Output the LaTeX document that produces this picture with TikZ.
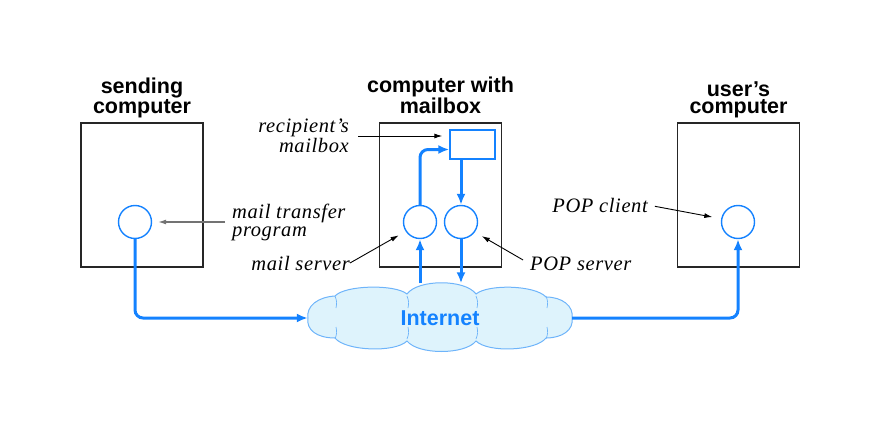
\documentclass[tikz,border=0pt]{standalone}
\usepackage{fontspec}
\setmainfont{Liberation Serif}
\setsansfont{Liberation Sans}
\usetikzlibrary{arrows.meta,positioning}
\definecolor{netblue}{RGB}{20,130,255}
\definecolor{cloudfill}{RGB}{222,243,252}
\definecolor{cloudline}{RGB}{110,180,250}
\begin{document}
\begin{tikzpicture}[x=1pt, y=-1pt,
  every node/.style={inner sep=0pt},
  host/.style={draw=black!85, line width=1.5pt, minimum width=122pt, minimum height=144pt},
  title/.style={font=\sffamily\bfseries\fontsize{21.5}{17}\selectfont, align=center, text depth=0pt},
  note/.style={font=\itshape\fontsize{20.5}{18}\selectfont\addfontfeatures{LetterSpace=3}},
  proc/.style={circle, draw=netblue, line width=1.4pt, minimum size=33pt},
  flow/.style={netblue, line width=3pt, -{Latex[length=11pt,width=9pt]}, rounded corners=8pt},
  pointer/.style={line width=0.9pt, -{Latex[length=8pt,width=5pt]}},
  seam/.style={cloudline, line width=0.7pt}
]
\useasboundingbox (0,0) rectangle (882,433);

% the three hosts
\node[host] (sender) at (142,195) {};
\node[host] (relay) at (440.5,195) {};
\node[host] (user) at (738.5,195) {};
\node[title, above=9pt of sender] {sending\\computer};
\node[title, above=9pt of relay] {computer with\\mailbox};
\node[title, above=9pt of user] {user's\\computer};

% programs
\node[proc] (mta) at (135,222) {};
\node[proc] (mserver) at (420,222) {};
\node[proc] (popserver) at (461,222) {};
\node[proc] (popclient) at (738,222) {};
\node[draw=netblue, line width=1.4pt, minimum width=45pt, minimum height=29pt] (mailbox) at (472.5,144.5) {};

% the network
\draw[cloudline, fill=cloudfill, line width=1pt]
  (308,318) .. controls (306,306) and (318,297) .. (335,296)
  .. controls (345,285) and (395,284) .. (407,294)
  .. controls (418,279) and (465,279) .. (476,294)
  .. controls (488,284) and (535,285) .. (546,297)
  .. controls (562,297) and (574,306) .. (572,318)
  .. controls (574,330) and (562,338) .. (546,338)
  .. controls (536,351) and (488,353) .. (476,341)
  .. controls (465,355) and (418,355) .. (407,341)
  .. controls (395,353) and (345,351) .. (335,338)
  .. controls (317,338) and (306,330) .. (308,318) -- cycle;
\foreach \sx in {335,407,476,546} {
  \draw[seam] (\sx,296) .. controls (\sx+2,302) .. (\sx+1,308);
  \draw[seam] (\sx,339) .. controls (\sx+2,333) .. (\sx+1,327);
}
\node[minimum width=264pt, minimum height=69pt,
  font=\sffamily\bfseries\fontsize{21.5}{21}\selectfont, text=netblue] (internet) at (440,318) {Internet};

\draw[flow] (mta.south) |- (internet.west);
\draw[flow] (internet.east) -| (popclient.south);
\draw[flow] (mserver |- internet.north) -- (mserver.south);
\draw[flow] (popserver.south) -- (popserver |- internet.north);
\draw[flow] (mserver.north) |- ([yshift=-5pt]mailbox.west);
\draw[flow] (popserver |- mailbox.south) -- (popserver.north);

% labels
\node[note, anchor=west, align=left] (mtalabel) at (232,222) {mail transfer\\program};
\node[note, anchor=east, align=right] (recip) at (349,136) {recipient’s\\mailbox};
\node[note, anchor=east] (msrvlabel) at (350,263) {mail server};
\node[note, anchor=west] (popsrvlabel) at (530,264) {POP server};
\node[note, anchor=east] (popcllabel) at (648,205) {POP client};

\draw[pointer, black!55, line width=1.2pt, shorten <=7pt, shorten >=6pt] (mtalabel.west) -- (mta.east);
\draw[pointer, shorten <=9pt, shorten >=7pt] (recip.east) -- (recip.east -| mailbox.west);
\draw[pointer, shorten >=8pt] (msrvlabel.east) -- (mserver.-147);
\draw[pointer, shorten <=8pt, shorten >=8pt] (popsrvlabel.west) -- (popserver.-36);
\draw[pointer, shorten <=7pt, shorten >=9pt] (popcllabel.east) -- (popclient.169);
\end{tikzpicture}
\end{document}
